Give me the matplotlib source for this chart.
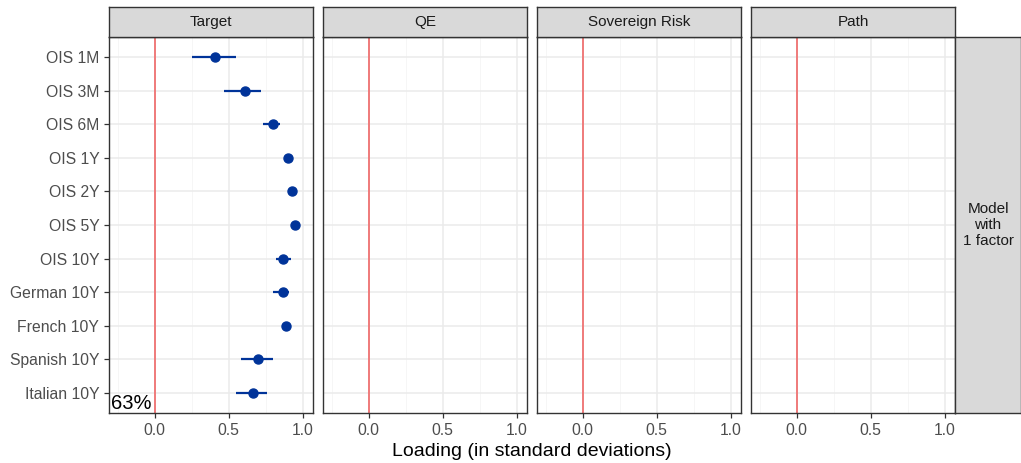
import numpy as np
import matplotlib.pyplot as plt

plt.rcParams['font.family'] = ['Liberation Sans', 'DejaVu Sans']

# data
series = ['OIS 1M', 'OIS 3M', 'OIS 6M', 'OIS 1Y', 'OIS 2Y', 'OIS 5Y',
          'OIS 10Y', 'German 10Y', 'French 10Y', 'Spanish 10Y', 'Italian 10Y']
loading = [0.405, 0.61, 0.80, 0.90, 0.93, 0.945, 0.87, 0.865, 0.89, 0.70, 0.665]
lower = [0.25, 0.47, 0.73, 0.88, 0.92, 0.935, 0.82, 0.80, 0.86, 0.58, 0.55]
upper = [0.55, 0.72, 0.85, 0.92, 0.94, 0.955, 0.92, 0.91, 0.92, 0.80, 0.76]
facets = ['Target', 'QE', 'Sovereign Risk', 'Path']
row_label = 'Model\nwith\n1 factor'
share_label = '63%'

W, H = 1021, 463
fig = plt.figure(figsize=(W / 100, H / 100), dpi=100)

def px(x0, y0, x1, y1):
    return [x0 / W, 1 - y1 / H, (x1 - x0) / W, (y1 - y0) / H]

edge = '#333333'
grid = '#EBEBEB'
txt = '#4D4D4D'
pt_col = '#003399'

panels = [(109, 313), (323, 527), (537, 741), (751, 955)]
top, bot, strip_top = 37, 413, 7
ypos = np.arange(len(series))

for k, (x0, x1) in enumerate(panels):
    ax = fig.add_axes(px(x0, top, x1, bot))
    ax.set_xlim(-0.31, 1.07)
    ax.set_ylim(len(series) - 0.4, -0.6)
    ax.set_xticks([0, 0.5, 1.0])
    ax.set_xticklabels(['0.0', '0.5', '1.0'])
    ax.set_xticks([-0.25, 0.25, 0.75], minor=True)
    ax.set_yticks(ypos)
    ax.grid(True, which='major', color=grid, lw=1.1)
    ax.grid(True, which='minor', axis='x', color='#F5F5F5', lw=0.6)
    ax.set_axisbelow(True)
    ax.tick_params(which='minor', length=0)
    ax.tick_params(which='major', colors=edge, labelcolor=txt, labelsize=11.3,
                   length=3.5, width=0.9)
    if k == 0:
        ax.set_yticklabels(series)
    else:
        ax.set_yticklabels([])
        ax.tick_params(axis='y', length=0)
    for s in ax.spines.values():
        s.set_color(edge)
        s.set_linewidth(1.0)
    ax.axvline(0, color='#F07A7A', lw=1.4, zorder=1)
    if k == 0:
        xerr = [np.array(loading) - np.array(lower), np.array(upper) - np.array(loading)]
        ax.errorbar(loading, ypos, xerr=xerr, fmt='o', color=pt_col, ms=6.5,
                    elinewidth=1.6, capsize=0, zorder=3)
        ax.text(-0.295, len(series) - 0.4, share_label, fontsize=14.5,
                color='black', ha='left', va='bottom')
    # strip
    sax = fig.add_axes(px(x0, strip_top, x1, top))
    sax.set_facecolor('#D9D9D9')
    sax.set_xticks([])
    sax.set_yticks([])
    for s in sax.spines.values():
        s.set_color(edge)
        s.set_linewidth(1.0)
    sax.text(0.5, 0.5, facets[k], ha='center', va='center', fontsize=11,
             color='#1A1A1A', transform=sax.transAxes)

rax = fig.add_axes(px(955, top, 1021, bot))
rax.set_facecolor('#D9D9D9')
rax.set_xticks([])
rax.set_yticks([])
for s in rax.spines.values():
    s.set_color(edge)
    s.set_linewidth(1.0)
rax.text(0.5, 0.5, row_label, ha='center', va='center', fontsize=11,
         color='#1A1A1A', linespacing=1.15, transform=rax.transAxes)

fig.text(532 / W, 1 - 452 / H, 'Loading (in standard deviations)', ha='center',
         va='center', fontsize=14, color='black')

fig.savefig('out.png', dpi=100, facecolor='white')
